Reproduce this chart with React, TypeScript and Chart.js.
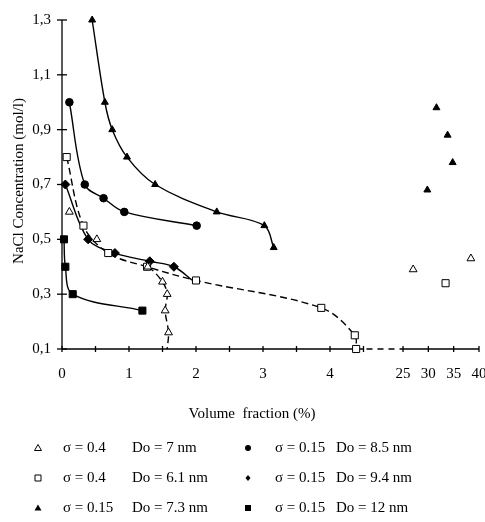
import React, { useEffect, useRef } from "react";
import { Chart, registerables } from "chart.js";
Chart.register(...registerables);

const FONT = '"Liberation Serif", "Times New Roman", serif';

// σ = 0.4, Do = 7 nm (open triangles)
const openTriX = [0.11, 0.52, 1.28, 1.5, 1.57, 1.54, 1.59, 1.57];
const openTriY = [0.6, 0.5, 0.4, 0.345, 0.3, 0.24, 0.16, 0.1];
const openTriFarX = [27.0, 38.4];
const openTriFarY = [0.39, 0.43];

// σ = 0.4, Do = 6.1 nm (open squares)
const openSqX = [0.07, 0.32, 0.69, 1.27, 2.0, 3.87, 4.37, 4.39];
const openSqY = [0.8, 0.55, 0.45, 0.4, 0.35, 0.25, 0.15, 0.1];
const openSqFarX = [33.4];
const openSqFarY = [0.34];

// σ = 0.15, Do = 7.3 nm (filled triangles)
const fillTriX = [0.45, 0.64, 0.75, 0.97, 1.39, 2.31, 3.02, 3.16];
const fillTriY = [1.3, 1.0, 0.9, 0.8, 0.7, 0.6, 0.55, 0.47];
const fillTriFarX = [29.8, 31.6, 33.8, 34.8];
const fillTriFarY = [0.68, 0.98, 0.88, 0.78];

// σ = 0.15, Do = 8.5 nm (filled circles)
const circX = [0.11, 0.34, 0.62, 0.93, 2.01];
const circY = [1.0, 0.7, 0.65, 0.6, 0.55];

// σ = 0.15, Do = 9.4 nm (filled diamonds)
const diaX = [0.05, 0.39, 0.79, 1.31, 1.67, 1.95];
const diaY = [0.7, 0.5, 0.45, 0.42, 0.4, 0.35];

// σ = 0.15, Do = 12 nm (filled squares)
const sqX = [0.03, 0.05, 0.16, 1.2];
const sqY = [0.5, 0.4, 0.3, 0.24];

// axis ticks
const yTicks = [0.1, 0.3, 0.5, 0.7, 0.9, 1.1, 1.3];
const xTicksNear = [0, 1, 2, 3, 4];
const xTicksFar = [25, 30, 35, 40];
const xTickMarksNear = [0, 0.5, 1, 1.5, 2, 2.5, 3, 3.5, 4, 4.5];

// legend
const legendSigma = ["σ = 0.4", "σ = 0.4", "σ = 0.15", "σ = 0.15", "σ = 0.15", "σ = 0.15"];
const legendDo = ["Do = 7 nm", "Do = 6.1 nm", "Do = 7.3 nm", "Do = 8.5 nm", "Do = 9.4 nm", "Do = 12 nm"];
const legendMarker = ["openTri", "openSq", "fillTri", "circle", "diamond", "fillSq"];

// broken x axis: 0–4.5 linear, then 25–40 compressed
const BREAK_LO = 4.5;
const BREAK_HI = 25;
const FAR_START = 5.09;
const FAR_SCALE = 0.0756;
const T = (v: number) => (v <= BREAK_LO ? v : FAR_START + (v - BREAK_HI) * FAR_SCALE);

const pts = (xs: number[], ys: number[]) => xs.map((x, i) => ({ x: T(x), y: ys[i] }));

const axesPlugin = {
  id: "brokenAxes",
  beforeDatasetsDraw(chart: any) {
    const { ctx, scales } = chart;
    const x = scales.x;
    const y = scales.y;
    const line = (a: number, b: number, c: number, d: number) => {
      ctx.beginPath();
      ctx.moveTo(a, b);
      ctx.lineTo(c, d);
      ctx.stroke();
    };
    ctx.save();
    ctx.strokeStyle = "#000";
    ctx.lineWidth = 1.3;
    const x0 = x.getPixelForValue(0);
    const yb = y.getPixelForValue(0.1);
    const yt = y.getPixelForValue(1.3);
    line(x0, yt, x0, yb);
    yTicks.forEach((v) => {
      const py = y.getPixelForValue(v);
      line(x0 - 5, py, x0 + 5, py);
    });
    const xa = x.getPixelForValue(T(BREAK_LO));
    const xb = x.getPixelForValue(T(BREAK_HI));
    const xe = x.getPixelForValue(T(40));
    line(x0, yb, xa, yb);
    line(xb, yb, xe, yb);
    ctx.setLineDash([6, 5]);
    line(xa + 3, yb, xb, yb);
    ctx.setLineDash([]);
    [...xTickMarksNear, ...xTicksFar].forEach((v) => {
      const px = x.getPixelForValue(T(v));
      line(px, yb - 3, px, yb + 3);
    });
    ctx.restore();
  },
  afterDraw(chart: any) {
    const { ctx } = chart;
    ctx.save();
    ctx.fillStyle = "#000";
    ctx.strokeStyle = "#000";
    ctx.font = `15px ${FONT}`;
    ctx.textBaseline = "middle";
    // y title
    ctx.save();
    ctx.translate(19, 181);
    ctx.rotate(-Math.PI / 2);
    ctx.textAlign = "center";
    ctx.fillText("NaCl Concentration (mol/l)", 0, 0);
    ctx.restore();
    // x title
    ctx.textAlign = "center";
    ctx.fillText("Volume  fraction (%)", 252, 414);
    // legend
    ctx.textAlign = "left";
    const symX = [38, 248];
    const sigX = [63, 275];
    const doX = [132, 336];
    const rowY = [448, 478, 508];
    legendMarker.forEach((m, i) => {
      const col = i < 3 ? 0 : 1;
      const row = i % 3;
      const cx = symX[col];
      const cy = rowY[row];
      ctx.lineWidth = 1;
      ctx.beginPath();
      if (m === "openTri" || m === "fillTri") {
        ctx.moveTo(cx, cy - 3.5);
        ctx.lineTo(cx + 3.5, cy + 2.5);
        ctx.lineTo(cx - 3.5, cy + 2.5);
        ctx.closePath();
      } else if (m === "openSq" || m === "fillSq") {
        ctx.rect(cx - 3, cy - 3, 6, 6);
      } else if (m === "circle") {
        ctx.arc(cx, cy, 3, 0, Math.PI * 2);
      } else {
        ctx.moveTo(cx, cy - 3);
        ctx.lineTo(cx + 2.5, cy);
        ctx.lineTo(cx, cy + 3);
        ctx.lineTo(cx - 2.5, cy);
        ctx.closePath();
      }
      if (m.startsWith("open")) ctx.stroke();
      else ctx.fill();
      ctx.fillText(legendSigma[i], sigX[col], cy);
      ctx.fillText(legendDo[i], doX[col], cy);
    });
    ctx.restore();
  },
};

export default function App() {
  const ref = useRef<HTMLCanvasElement | null>(null);

  useEffect(() => {
    if (!ref.current) return;
    const common = {
      showLine: true,
      borderColor: "#000",
      borderWidth: 1.4,
      tension: 0.35,
      clip: false,
      pointBorderColor: "#000",
      pointBorderWidth: 1,
    };
    const chart = new Chart(ref.current, {
      type: "scatter",
      data: {
        datasets: [
          {
            ...common,
            label: "σ = 0.4 Do = 7 nm",
            data: pts(openTriX, openTriY),
            borderDash: [7, 4],
            pointStyle: "triangle",
            pointRadius: openTriX.map((_, i) => (i === openTriX.length - 1 ? 0 : 4.5)),
            pointBackgroundColor: "#fff",
            segment: {
              borderColor: (c: any) => (c.p0DataIndex < 2 ? "rgba(0,0,0,0)" : "#000"),
            },
          },
          {
            ...common,
            label: "σ = 0.4 Do = 6.1 nm",
            data: pts(openSqX, openSqY),
            borderDash: [7, 4],
            pointStyle: "rect",
            pointRadius: 5,
            pointBackgroundColor: "#fff",
          },
          {
            ...common,
            label: "σ = 0.15 Do = 7.3 nm",
            data: pts(fillTriX, fillTriY),
            pointStyle: "triangle",
            pointRadius: 4,
            pointBackgroundColor: "#000",
          },
          {
            ...common,
            label: "σ = 0.15 Do = 8.5 nm",
            data: pts(circX, circY),
            pointStyle: "circle",
            pointRadius: 3.8,
            pointBackgroundColor: "#000",
          },
          {
            ...common,
            label: "σ = 0.15 Do = 9.4 nm",
            data: pts(diaX, diaY),
            pointStyle: "rectRot",
            pointRadius: diaX.map((_, i) => (i === diaX.length - 1 ? 0 : 4.5)),
            pointBackgroundColor: "#000",
          },
          {
            ...common,
            label: "σ = 0.15 Do = 12 nm",
            data: pts(sqX, sqY),
            pointStyle: "rect",
            pointRadius: 5,
            pointBackgroundColor: "#000",
          },
          {
            ...common,
            showLine: false,
            label: "σ = 0.4 Do = 7 nm (far)",
            data: pts(openTriFarX, openTriFarY),
            pointStyle: "triangle",
            pointRadius: 4.5,
            pointBackgroundColor: "#fff",
          },
          {
            ...common,
            showLine: false,
            label: "σ = 0.4 Do = 6.1 nm (far)",
            data: pts(openSqFarX, openSqFarY),
            pointStyle: "rect",
            pointRadius: 5,
            pointBackgroundColor: "#fff",
          },
          {
            ...common,
            showLine: false,
            label: "σ = 0.15 Do = 7.3 nm (far)",
            data: pts(fillTriFarX, fillTriFarY),
            pointStyle: "triangle",
            pointRadius: 4,
            pointBackgroundColor: "#000",
          },
        ],
      },
      options: {
        animation: false,
        responsive: false,
        devicePixelRatio: 1,
        layout: { padding: { left: 0, right: 6, top: 20, bottom: 143 } },
        plugins: { legend: { display: false }, tooltip: { enabled: false } },
        scales: {
          x: {
            type: "linear",
            min: 0,
            max: T(40),
            grid: { display: false, drawTicks: false },
            border: { display: false },
            afterBuildTicks: (s: any) => {
              s.ticks = [...xTicksNear, ...xTicksFar].map((v) => ({ value: T(v) }));
            },
            afterFit: (s: any) => {
              s.height = 30;
              s.paddingLeft = 0;
              s.paddingRight = 0;
            },
            ticks: {
              autoSkip: false,
              maxRotation: 0,
              padding: 16,
              color: "#000",
              font: { family: FONT, size: 15 },
              callback: (_v: any, i: number) => String([...xTicksNear, ...xTicksFar][i]),
            },
          },
          y: {
            type: "linear",
            min: 0.1,
            max: 1.3,
            grid: { display: false, drawTicks: false },
            border: { display: false },
            afterBuildTicks: (s: any) => {
              s.ticks = yTicks.map((v) => ({ value: v }));
            },
            afterFit: (s: any) => {
              s.width = 62;
            },
            ticks: {
              padding: 11,
              color: "#000",
              font: { family: FONT, size: 15 },
              callback: (v: any) => Number(v).toFixed(1).replace(".", ","),
            },
          },
        },
      } as any,
      plugins: [axesPlugin],
    });
    return () => chart.destroy();
  }, []);

  return (
    <div style={{ position: "absolute", left: 0, top: 0, width: 485, height: 522, background: "#fff" }}>
      <canvas ref={ref} width={485} height={522} style={{ display: "block" }} />
    </div>
  );
}
